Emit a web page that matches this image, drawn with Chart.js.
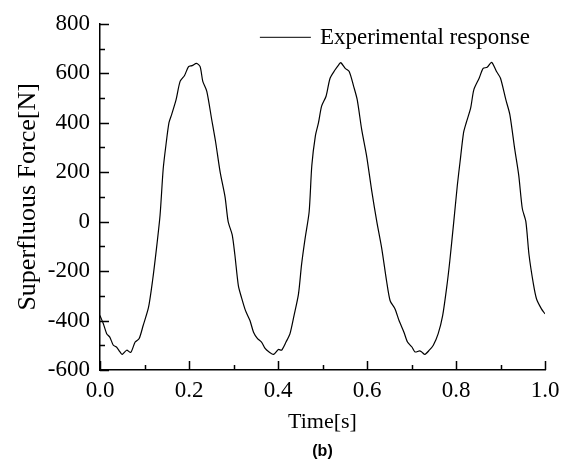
<!DOCTYPE html>
<html>
<head>
<meta charset="utf-8">
<script src="https://cdn.jsdelivr.net/npm/chart.js@4"></script>
<style>
  html, body { margin: 0; padding: 0; background: #fff; }
  #wrap { width: 570px; height: 464px; }
</style>
</head>
<body>
<div id="wrap"><canvas id="chart" width="570" height="464"></canvas></div>
<script>
// Data
const timeValues = [
    0, 0.0075, 0.015, 0.022, 0.030, 0.037, 0.045, 0.050, 0.060, 0.069,
    0.079, 0.088, 0.097, 0.109, 0.118, 0.127, 0.135, 0.142, 0.148, 0.155,
    0.161, 0.171, 0.180, 0.190, 0.199, 0.207, 0.217, 0.225, 0.231, 0.240,
    0.251, 0.260, 0.270, 0.281, 0.288, 0.297, 0.303, 0.311, 0.318, 0.327,
    0.337,
    0.345, 0.354, 0.363, 0.371, 0.380, 0.390, 0.401, 0.408, 0.418, 0.427,
    0.436, 0.446, 0.453, 0.461, 0.470, 0.476, 0.484, 0.491, 0.498, 0.508,
    0.517, 0.528, 0.536, 0.541, 0.551, 0.560, 0.570, 0.578, 0.588, 0.599,
    0.611, 0.622, 0.633, 0.644, 0.652, 0.663, 0.672,
    0.683, 0.691, 0.701, 0.708, 0.718, 0.723, 0.730, 0.740, 0.749, 0.760,
    0.770, 0.779, 0.786, 0.795, 0.803, 0.809, 0.817, 0.823, 0.833, 0.840,
    0.852, 0.861, 0.870, 0.880, 0.891, 0.900, 0.912, 0.921, 0.932, 0.941,
    0.949, 0.957, 0.964, 0.974, 0.981, 0.992, 1.000
];
const forceValues = [
    -380, -413, -453, -467, -500, -507, -527, -537, -520, -529,
    -487, -473, -420, -347, -240, -107, 27, 213, 307, 400,
    433, 493, 567, 591, 627, 631, 640, 627, 567, 527,
    413, 320, 200, 100, 0, -53, -133, -260, -307, -360,
    -400,
    -447, -473, -487, -513, -527, -537, -517, -520, -487, -453,
    -380, -293, -173, -67, 40, 227, 347, 400, 467, 507,
    580, 613, 633, 643, 620, 607, 547, 493, 373, 267,
    120, 0, -107, -240, -320, -353, -400,
    -447, -487, -507, -527, -523, -527, -537, -520, -500, -453,
    -380, -267, -160, 0, 147, 240, 360, 400, 460, 533,
    580, 620, 624, 644, 607, 580, 493, 433, 293, 187,
    53, 0, -133, -253, -313, -353, -373
];
const seriesLabel = 'Experimental response';
const xTitle = 'Time[s]';
const yTitle = 'Superfluous Force[N]';
const caption = '(b)';

const serif = "'Liberation Serif', 'Times New Roman', serif";

// inward major + minor tick marks on both axes
const innerTicks = {
    id: 'innerTicks',
    afterDraw(chart) {
        const ctx = chart.ctx;
        const xs = chart.scales.x, ys = chart.scales.y;
        const area = chart.chartArea;
        ctx.save();
        ctx.strokeStyle = '#000';
        ctx.lineWidth = 1.5;
        ctx.beginPath();
        for (let i = 0; i <= 14; i++) {
            const v = -600 + i * 100;
            const py = Math.round(ys.getPixelForValue(v)) + 0.5;
            const len = (i % 2 === 0) ? 9 : 5;
            ctx.moveTo(area.left, py);
            ctx.lineTo(area.left + len, py);
        }
        for (let i = 0; i <= 10; i++) {
            const v = i / 10;
            const px = Math.round(xs.getPixelForValue(v)) + 0.5;
            const len = (i % 2 === 0) ? 9 : 5;
            ctx.moveTo(px, area.bottom);
            ctx.lineTo(px, area.bottom - len);
        }
        ctx.stroke();
        ctx.restore();
    }
};

// legend drawn inside the plot, top right
const insideLegend = {
    id: 'insideLegend',
    afterDraw(chart) {
        const ctx = chart.ctx;
        const area = chart.chartArea;
        ctx.save();
        ctx.font = '23px ' + serif;
        ctx.fillStyle = '#000';
        ctx.textBaseline = 'middle';
        const label = chart.data.datasets[0].label;
        const w = ctx.measureText(label).width;
        const textX = area.right - 15 - w;
        const y = area.top + 14;
        ctx.fillText(label, textX, y);
        ctx.strokeStyle = '#000';
        ctx.lineWidth = 1;
        ctx.beginPath();
        ctx.moveTo(textX - 60, y - 0.5);
        ctx.lineTo(textX - 9, y - 0.5);
        ctx.stroke();
        ctx.restore();
    }
};

const ctx = document.getElementById('chart').getContext('2d');
new Chart(ctx, {
    type: 'line',
    data: {
        datasets: [{
            label: seriesLabel,
            data: timeValues.map((t, i) => ({ x: t, y: forceValues[i] })),
            borderColor: '#000',
            borderWidth: 1.2,
            pointRadius: 0,
            tension: 0.25,
            fill: false
        }]
    },
    options: {
        responsive: false,
        animation: false,
        layout: { padding: { left: 0, right: 25, top: 21, bottom: 0 } },
        plugins: {
            legend: { display: false },
            tooltip: { enabled: false },
            title: {
                display: true,
                text: caption,
                position: 'bottom',
                fullSize: false,
                color: '#000',
                font: { family: "'Liberation Sans', Arial, sans-serif", size: 16, weight: 'bold' },
                padding: { top: 0, bottom: 3 }
            }
        },
        scales: {
            x: {
                type: 'linear',
                min: 0,
                max: 1,
                grid: { display: false, drawTicks: false },
                border: { display: true, color: '#000', width: 1.5 },
                ticks: {
                    stepSize: 0.2,
                    color: '#000',
                    padding: 7,
                    font: { family: serif, size: 23 },
                    callback: v => v.toFixed(1)
                },
                title: {
                    display: true,
                    text: xTitle,
                    color: '#000',
                    font: { family: serif, size: 22 },
                    padding: { top: 0, bottom: 6 }
                },
                afterFit(scale) { scale.height = 71.8; }
            },
            y: {
                min: -600,
                max: 800,
                grid: { display: false, drawTicks: false },
                border: { display: true, color: '#000', width: 1.5 },
                ticks: {
                    stepSize: 200,
                    color: '#000',
                    padding: 10,
                    font: { family: serif, size: 23 }
                },
                title: {
                    display: true,
                    text: yTitle,
                    color: '#000',
                    font: { family: serif, size: 26 },
                    padding: { top: 13, bottom: 0 }
                },
                afterFit(scale) { scale.width = 100; }
            }
        }
    },
    plugins: [innerTicks, insideLegend]
});
</script>
</body>
</html>
